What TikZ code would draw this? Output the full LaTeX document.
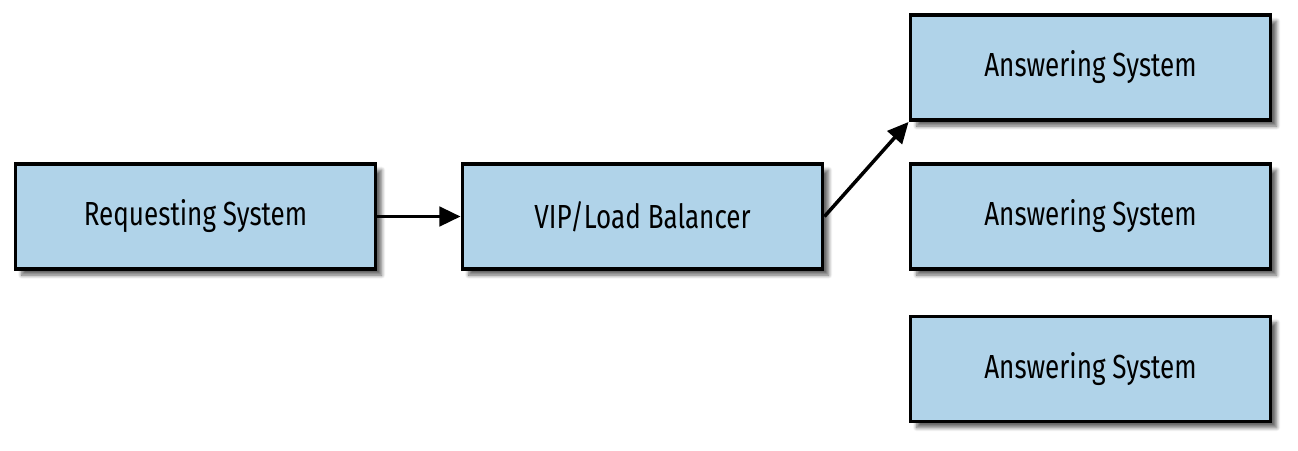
\documentclass[tikz,border=0pt]{standalone}
\usepackage{fontspec}
\setmainfont{Fira Sans}[FakeStretch=0.78]
\usepackage{tikz}
\usetikzlibrary{arrows.meta,shadows.blur}
\definecolor{boxblue}{RGB}{176,211,233}

\begin{document}
\begin{tikzpicture}[
    sysbox/.style={draw=black,line width=2.2pt,fill=boxblue,minimum width=7.2cm,minimum height=2.1cm,
        blur shadow={shadow xshift=3.5pt,shadow yshift=-3.5pt,shadow blur steps=6,shadow opacity=60},
        font=\fontsize{19}{22}\selectfont},
    link/.style={-{Triangle[length=12pt,width=11pt]},line width=2pt}]
    \useasboundingbox (0,0) rectangle (25.96,-9);
    \node[sysbox] (req) at (3.91,-4.33) {Requesting System};
    \node[sysbox] (vip) at (12.85,-4.33) {VIP/Load Balancer};
    \node[sysbox] (ans1) at (21.81,-1.35) {Answering System};
    \node[sysbox] (ans2) at (21.81,-4.33) {Answering System};
    \node[sysbox] (ans3) at (21.81,-7.38) {Answering System};
    \draw[link] (req.east)--(vip.west);
    \draw[link] (vip.east)--(ans1.south west);
\end{tikzpicture}
\end{document}
